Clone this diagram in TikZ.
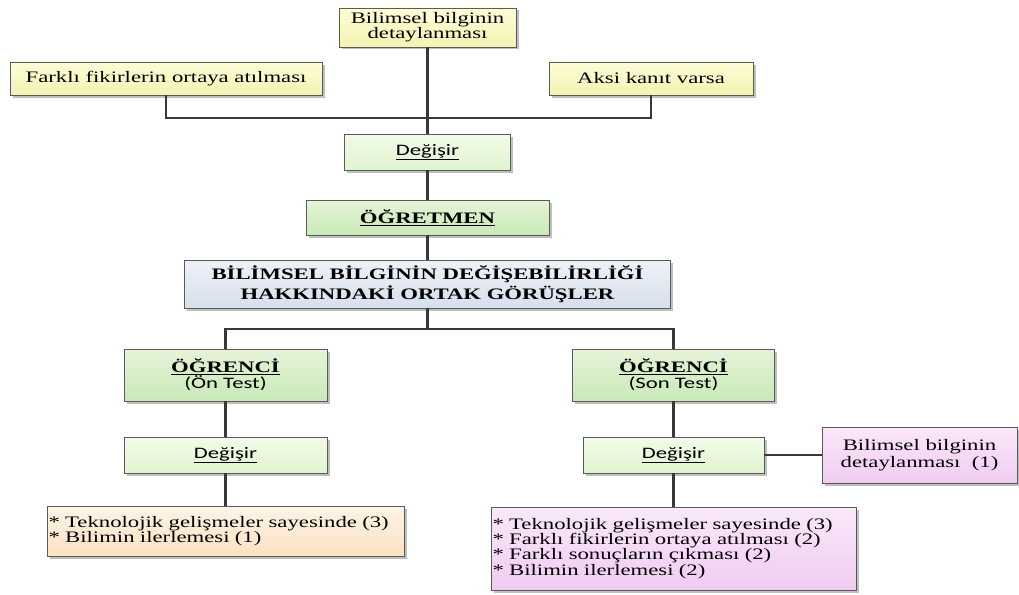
\documentclass[tikz,border=0pt]{standalone}
\usepackage{fontspec}
\setmainfont{Liberation Serif}[FakeStretch=1.42]
\newfontfamily\sansfam{Carlito}[FakeStretch=1.42]
\usetikzlibrary{shadows}

\definecolor{yelT}{HTML}{FDFDD8}
\definecolor{yelB}{HTML}{F3F3B2}
\definecolor{grnT}{HTML}{E4F4D8}
\definecolor{grnB}{HTML}{C9E9B8}
\definecolor{lgrT}{HTML}{F2FBE9}
\definecolor{lgrB}{HTML}{E0F4D0}
\definecolor{bluT}{HTML}{EEF2F8}
\definecolor{bluB}{HTML}{D5DFEC}
\definecolor{orgT}{HTML}{FEF4E6}
\definecolor{orgB}{HTML}{FBE2C2}
\definecolor{purT}{HTML}{FAE8FA}
\definecolor{purB}{HTML}{F0CCF0}
\definecolor{edge}{HTML}{5A5A5A}
\definecolor{wire}{HTML}{383838}

\tikzset{
  box/.style={draw=edge, line width=0.9pt, inner sep=0pt, align=center,
    font=\fontsize{16}{18}\selectfont,
    drop shadow={shadow xshift=2.5pt, shadow yshift=-2.5pt, fill=black!25, opacity=1}},
  yelbox/.style={box, top color=yelT, bottom color=yelB},
  grnbox/.style={box, top color=grnT, bottom color=grnB},
  lgrbox/.style={box, top color=lgrT, bottom color=lgrB},
  blubox/.style={box, top color=bluT, bottom color=bluB},
  orgbox/.style={box, top color=orgT, bottom color=orgB},
  purbox/.style={box, top color=purT, bottom color=purB},
  wh/.style 2 args={minimum width=#1pt, minimum height=#2pt},
  conn/.style={draw=wire, line width=2.3pt},
  thin conn/.style={draw=wire, line width=1.5pt},
}
\newcommand{\dgs}{{\sansfam\underline{Değişir}}}
\newcommand{\bul}{{*}~}

\begin{document}
\begin{tikzpicture}[x=1pt, y=-1pt]
  \useasboundingbox (0,0) rectangle (1019,594);

  % upper branch
  \node[yelbox, wh={177}{39}, font=\fontsize{16}{15}\selectfont] (top) at (427.5,27.5)
    {Bilimsel bilginin\\detaylanması};
  \node[yelbox, wh={312}{33}] (fikir) at (166,78.5) {Farklı fikirlerin ortaya atılması};
  \node[yelbox, wh={204}{33}] (aksi) at (651,78.5) {Aksi kanıt varsa};
  \node[lgrbox, wh={166}{36}] (deg0) at (427.5,152) {\dgs};
  \node[grnbox, wh={243}{35}] (ogrt) at (427.5,217.5) {\textbf{\underline{ÖĞRETMEN}}};
  \node[blubox, wh={486}{48}, font=\fontsize{16}{19.5}\selectfont\bfseries] (main) at (427.5,284)
    {BİLİMSEL BİLGİNİN DEĞİŞEBİLİRLİĞİ\\HAKKINDAKİ ORTAK GÖRÜŞLER};

  % student branches
  \node[grnbox, wh={203}{52}, font=\fontsize{16}{16}\selectfont] (ogrL) at (225.5,375)
    {\textbf{\underline{ÖĞRENCİ}}\\{\sansfam (Ön Test)}};
  \node[grnbox, wh={202}{52}, font=\fontsize{16}{16}\selectfont] (ogrR) at (673.5,375)
    {\textbf{\underline{ÖĞRENCİ}}\\{\sansfam (Son Test)}};
  \node[lgrbox, wh={203}{36}] (degL) at (225.5,455) {\dgs};
  \node[lgrbox, wh={181}{36}] (degR) at (673.5,455) {\dgs};
  \node[purbox, wh={195}{56}, font=\fontsize{16}{17}\selectfont] (detay) at (919.5,455)
    {Bilimsel bilginin\\detaylanması~~(1)};

  \node[orgbox, wh={357}{50}, align=left, text width=354pt, inner xsep=1.5pt,
        font=\fontsize{16}{15}\selectfont] (listL) at (225.5,531)
    {\bul Teknolojik gelişmeler sayesinde (3)\\\bul Bilimin ilerlemesi (1)};
  \node[purbox, wh={365}{83}, align=left, text width=362pt, inner xsep=1.5pt,
        font=\fontsize{16}{15.2}\selectfont] (listR) at (673.5,548.5)
    {\bul Teknolojik gelişmeler sayesinde (3)\\\bul Farklı fikirlerin ortaya atılması (2)\\
     \bul Farklı sonuçların çıkması (2)\\\bul Bilimin ilerlemesi (2)};

  % connectors
  \coordinate (j1) at (427.5,118);
  \coordinate (j2) at (427.5,329);
  \draw[conn] (top.south) -- (deg0.north);
  \draw[conn] (fikir.south) |- (j1) -| (aksi.south);
  \draw[conn] (deg0.south) -- (ogrt.north);
  \draw[conn] (ogrt.south) -- (main.north);
  \draw[conn] (main.south) -- (j2);
  \draw[conn] (ogrL.north) |- (j2) -| (ogrR.north);
  \draw[conn] (ogrL.south) -- (degL.north);
  \draw[conn] (degL.south) -- (listL.north);
  \draw[conn] (ogrR.south) -- (degR.north);
  \draw[conn] (degR.south) -- (listR.north);
  \draw[thin conn] (degR.east) -- (detay.west);
\end{tikzpicture}
\end{document}
